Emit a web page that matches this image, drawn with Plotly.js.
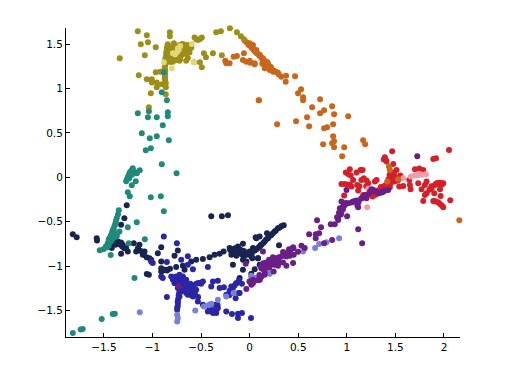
<!DOCTYPE html>
<html>
<head>
<meta charset="utf-8">
<script src="https://cdn.plot.ly/plotly-3.0.1.min.js"></script>
<style>
  html, body { margin: 0; padding: 0; background: #fff; }
  #chart { width: 507px; height: 379px; }
</style>
</head>
<body>
<div id="chart"></div>
<script>
const tickX = [-1.5, -1, -0.5, 0, 0.5, 1, 1.5, 2];
const tickY = [-1.5, -1, -0.5, 0, 0.5, 1, 1.5];

const navyX = [-1.265,-1.289,-1.323,-1.82,-1.78,-1.574,-1.571,-1.419,-1.409,-1.381,-1.357,-1.323,-1.306,-1.254,-1.323,-1.306,-1.271,-1.193,-1.134,-1.168,-1.082,-1.1,-1.031,-1.014,-.945,-.91,-.739,-.773,-1.058,-1.037,-.91,-.852,-.91,-.876,-.91,-.756,-.687,-.67,-.601,-.55,-.481,-.412,-.361,-.309,-.268,-.206,-.12,-.069,-.188,-.172,-.137,-.086,-.052,0,.034,.103,.069,-.395,-.286,-.223,-.103,-.069,.086,-.172,-.069,.017,.052,-.034,.351,.292,.258,.223,.189,.155,.12,.086,.052,.017,.179,.103,.062,.302,.027,.086,.052,.103,.017,
  .33,.31,.27,.24,.21,.17,.14,.11,.07,.035,0,-.03,-.06,-.09,-.11,-.15,-.17,-.2,-.12,-.14,-.08,-.05,-.02,.02,-1.39,-1.37,-1.35,-1.33,-1.31,-1.29,-1.15,-1.12,-1.09,-1.06,-.89,-.85,-.82];
const navyY = [-.315,-.461,-.536,-.641,-.675,-.686,-.713,-.798,-.742,-.761,-.724,-.736,-.761,-.837,-.863,-.78,-.798,-.742,-.761,-.837,-.837,-.874,-.911,-.93,-.855,-.787,-.826,-.885,-1.091,-1.099,-.949,-1.043,-1.062,-1.043,-1.024,-1.012,-.998,-1.043,-.949,-.93,-.922,-.9,-.874,-.863,-.837,-.798,-.78,-.75,-.874,-.837,-.885,-.837,-.874,-.837,-.798,-.78,-.686,-.438,-.438,-.427,-1.136,-1.043,-.911,-.986,-.93,-.893,-.818,-.949,-.54,-.573,-.612,-.649,-.686,-.724,-.761,-.798,-.826,-.848,-.63,-.668,-.675,-.765,-.911,-.911,-1.035,-.986,-1.088,
  -.55,-.565,-.6,-.63,-.66,-.7,-.74,-.77,-.81,-.83,-.85,-.85,-.83,-.82,-.81,-.8,-.81,-.82,-.86,-.84,-.87,-.88,-.87,-.87,-.73,-.74,-.75,-.76,-.78,-.8,-.8,-.83,-.87,-.9,-1.05,-1.05,-1.03];

const blueX = [-.883,-.749,-.636,-.704,-.852,-.997,-1.014,-.636,-.584,-.43,-.91,-.894,-.852,-.807,-.79,-.756,-.722,-.687,-.653,-.773,-.739,-.704,-.722,-.739,-.746,-.722,-.67,-.619,-.653,-.584,-.533,-.481,-.584,-.533,-.481,-.55,-.636,-.395,-.378,-.327,-.309,-.265,-.43,-.378,-.344,-.327,-.344,-.378,-.206,-.172,-.137,-.241,-.182,-.12,-.12,-.079,.014,-.103,-.079,-.412,-.172,-.24,-.189,-.137,-.113,-.144,-.206,
  -.72,-.725,-.73,-.735,-.74,-.74,-.745,-.79,-.77,-.75,-.73,-.71,-.69,-.67,-.65,-.63,-.6,-.58,-.56,-.53,-.61,-.58,-.55,-.52,-.5,-.6,-.62,-.65,-.68,-.7,-.41,-.39,-.36,-.33,-.34,-.19,-.155,-.21,-.11];
const blueY = [-.668,-.742,-.889,-.93,-.956,-.967,-.949,-.986,-1.035,-1.012,-1.118,-1.136,-1.35,-1.118,-1.155,-1.118,-1.099,-1.118,-1.155,-1.193,-1.249,-1.287,-1.344,-1.418,-1.493,-1.193,-1.212,-1.249,-1.305,-1.344,-1.4,-1.437,-1.231,-1.193,-1.175,-1.268,-1.324,-1.231,-1.175,-1.167,-1.249,-1.238,-1.512,-1.53,-1.53,-1.474,-1.437,-1.437,-1.305,-1.249,-1.193,-1.512,-1.542,-1.587,-1.539,-1.53,-1.587,-1.305,-1.2,-1.474,-1.305,-1.324,-1.231,-1.193,-1.305,-1.362,-1.279,
  -1.25,-1.3,-1.33,-1.37,-1.4,-1.45,-1.47,-1.13,-1.15,-1.17,-1.18,-1.14,-1.14,-1.17,-1.2,-1.22,-1.26,-1.29,-1.32,-1.35,-1.2,-1.22,-1.2,-1.19,-1.2,-1.33,-1.29,-1.26,-1.27,-1.2,-1.5,-1.5,-1.5,-1.44,-1.49,-1.27,-1.22,-1.33,-1.16];

const periX = [.921,.79,.715,.674,.55,.206,.052,.017,-1.131,-.746,-.739,-.746,-.56,-.471,-.395,-.327,-.241,-.165,.017,.069,-.42,-.4];
const periY = [-.686,-.731,-.753,-.798,-.837,-1.088,-1.136,-1.11,-1.52,-1.55,-1.587,-1.625,-1.501,-1.456,-1.426,-1.381,-1.344,-1.305,-1.118,-1.136,-1.44,-1.43];

const redX = [1.467,2.052,1.89,1.918,1.392,1.409,1.478,1.512,1.478,1.529,1.485,1.402,1.443,1.375,1.323,1.265,1.289,1.031,.99,1.014,1.1,1.141,1.162,1.175,1.22,1.203,1.289,1.306,1.065,.945,.979,1.048,1.107,1.117,1.168,.973,1.701,1.746,1.787,1.643,1.649,1.656,1.581,1.54,1.735,1.77,1.821,1.804,1.821,1.804,1.873,1.907,1.942,1.993,1.959,1.959,1.9,1.966,1.787,1.89,1.918,1.959,1.993,2.065,1.44,1.47,1.38,1.41,1.35,1.45,1.55,1.04,1.13,1.49,
  1.92,1.96,1.98,1.87,1.85,1.38,1.4,1.43,1.46,1.5,1.52,1.36,1.32,1.3,1.25,1.2,1.15,1,1.03,1.9,1.94,1.98];
const redY = [.294,.309,.207,.215,.226,.177,.151,.083,.053,-.029,-.048,-.086,-.112,-.161,-.179,-.217,-.198,.091,.053,.038,.053,.083,.083,-.011,-.067,-.037,-.048,-.029,-.029,-.074,-.074,-.104,-.086,-.15,-.198,-.206,.091,.098,.083,-.029,-.086,-.134,-.097,-.104,-.067,-.134,-.048,-.086,-.179,-.198,-.123,-.086,-.06,-.067,-.086,-.134,-.179,-.21,-.266,-.266,-.274,-.3,-.337,-.258,.03,-.01,-.1,-.14,-.11,-.07,.02,.02,-.1,.02,
  -.07,-.06,-.08,-.1,-.14,.2,.2,-.02,.05,0,-.04,-.13,-.15,-.19,-.14,-.1,-.03,-.08,-.08,-.27,-.28,-.32];

const pinkX = [1.581,1.66,1.701,1.735,1.77,1.814,1.21,1.22];
const pinkY = [-.011,.008,.019,.027,.031,.034,-.337,-.13];

const purpleX = [1.725,.997,.945,1.014,.979,.928,.945,.9,1.003,.911,.876,.835,.694,.735,.612,.715,.68,.68,1.117,1.158,.849,.766,1.065,1.1,1.117,1.151,1.186,1.203,1.254,1.289,1.34,1.375,1.426,1.23,1.048,1.107,.962,.447,.405,.533,.567,.498,.454,.412,.344,.378,.292,.309,.258,.223,.189,.155,.12,.155,.155,.103,.447,.378,.247,.206,.344,.258,.292,.137,.017,0,.034,-.732,-.041,0,.034,-.034,.103,
  .45,.42,.39,.36,.33,.3,.27,.24,.21,.18,.15,.13,.2,.24,.17,.14,.2,.25,.3,.12,.1,.12,.08,.94,.96,.97,.99,.91,.92,1.08,1.12,1.15,1.18,1.21,1.24,1.27,1.3,1.33,1.36,1.39];
const purpleY = [.237,-.142,-.274,-.293,-.311,-.348,-.386,-.449,-.438,-.48,-.528,-.528,-.483,-.562,-.641,-.63,-.641,-.686,-.585,-.742,-.708,-.742,-.274,-.262,-.337,-.235,-.198,-.235,-.134,-.161,-.172,-.161,-.142,-.179,-.285,-.311,-.33,-.787,-.81,-.772,-.798,-.84,-.874,-.885,-.843,-.893,-.911,-.961,-.911,-.949,-.967,-.986,-1.024,-1.062,-1.099,-1.155,-.967,-.998,-1.062,-1.006,-.961,-.986,-.998,-.837,-1.212,-1.175,-1.155,-1.231,-.975,-1.175,-1.193,-1.26,-1.155,
  -.8,-.82,-.85,-.87,-.89,-.9,-.92,-.95,-.97,-1,-1.01,-1.03,-.93,-.9,-.96,-.97,-1.02,-.98,-.94,-.99,-1.1,-1.12,-1.16,-.42,-.36,-.32,-.29,-.45,-.4,-.27,-.28,-.24,-.22,-.2,-.16,-.14,-.16,-.18,-.17,-.15];

const orangeX = [-.251,-.241,-.206,-.165,-.131,-.059,-.069,-.034,0,.052,.093,.034,.069,.103,0,.034,.069,.103,.137,.155,.189,.155,.206,.241,.292,.326,.371,.375,.467,.007,.052,.529,.498,.55,.55,.096,.725,.643,.849,.766,.725,.869,1.014,.591,.478,.282,.612,.859,.797,.766,.859,.869,.849,.756,.869,.973,1.168,1.189,.952,1.433,1.443,1.529,1.416,2.158,
  -.05,-.03,-.01,.01,.02,.04,.05,.07,.085,.1,.12,.13,.14,.16,.17,.19,.21,.22,.25,.27,.3,.15,.18,.13];
const orangeY = [1.315,1.285,1.285,1.359,1.367,1.397,1.322,1.303,1.315,1.285,.868,1.491,1.435,1.378,1.51,1.453,1.415,1.378,1.341,1.303,1.285,1.228,1.21,1.19,1.179,1.134,1.078,1.145,1.138,1.292,1.274,.992,.947,.902,.868,.868,.879,.789,.801,.756,.722,.71,.688,.676,.631,.597,.575,.597,.564,.552,.462,.406,.384,.372,.339,.339,.417,.372,.237,.121,.083,-.022,-.048,-.483,
  1.54,1.52,1.49,1.48,1.46,1.44,1.42,1.4,1.39,1.37,1.35,1.33,1.32,1.31,1.29,1.27,1.25,1.24,1.2,1.19,1.16,1.29,1.3,1.28];

const oliveX = [-1.337,-1.151,-1.058,-1.12,-1.047,-.966,-1.079,-.821,-.821,-.78,-1.141,-1.058,-1.007,-1.007,-.956,-.956,-1.017,-.904,-.863,-.863,-.863,-.966,-.918,-1.037,-.873,-.873,-.873,-.873,-.866,-.859,-.852,-.842,-.852,-.838,-.873,-.87,-.868,-.825,-.807,-.79,-.756,-.722,-.739,-.704,-.67,-.687,-.722,-.636,-.619,-.636,-.653,-.715,-.82,-.8,-.78,-.76,-.7,-.75,-.655,-.6,-.62,-.567,-.55,-.533,-.492,-.51,-.471,-.45,-.512,-.492,-.574,-.378,-.286,-.344,-.296,-.203,-.131,-.09,-.059,
  -.87,-.87,-.87,-.87,-.86,-.855,-.85,-.84,-.835,-.83,-.82,-.845,-.8,-.77,-.74,-.72,-.7,-.68,-.66,-.64,-.62,-.65,-.67,-.7,-.73,-.78,-.8,-.76,-.72,-.69,-.65,-.63];
const oliveY = [1.341,1.645,1.6,1.499,1.521,1.465,1.375,1.634,1.589,1.51,1.149,1.104,1.104,1.07,1.07,1.014,.947,1.048,1.059,1.014,.935,1.183,1.19,.789,1.116,1.172,1.228,1.285,1.341,1.397,1.453,1.499,1.375,1.42,1.06,1.14,1.2,1.341,1.397,1.303,1.322,1.315,1.378,1.415,1.453,1.502,1.491,1.491,1.408,1.341,1.315,1.33,1.46,1.45,1.36,1.42,1.47,1.47,1.39,1.46,1.47,1.577,1.555,1.547,1.577,1.56,1.397,1.352,1.296,1.24,1.296,1.397,1.375,1.634,1.645,1.679,1.634,1.589,1.555,
  1.09,1.15,1.26,1.31,1.36,1.42,1.47,1.44,1.39,1.36,1.3,1.34,1.33,1.34,1.34,1.36,1.38,1.4,1.42,1.44,1.46,1.48,1.49,1.5,1.47,1.4,1.38,1.38,1.42,1.43,1.44,1.41];

const paleX = [-.883,-.801,-.595,-.574,-.79,-.766,-.746,-.729,-.715,-.739];
const paleY = [1.296,1.228,1.502,1.296,1.397,1.386,1.415,1.442,1.48,1.453];

const tealX = [-.883,-.904,-.852,-1.037,-.842,-.842,-1.151,-1.047,-.956,-.894,-1.11,-1.028,-.956,-.832,-1.069,-1.017,-.904,-.752,-1.213,-1.172,-1.131,-1.271,-1.254,-1.237,-1.203,-1.22,-1.162,-1.186,-1.254,-1.234,-1.017,-.914,-.883,-1.162,-1.254,-1.079,-1.244,-1.347,-1.368,-1.381,-1.399,-1.419,-1.443,-1.46,-1.505,-1.543,-1.43,-1.392,-1.34,-1.368,-1.43,-1.45,-1.47,-1.185,-1.388,-1.409,-1.523,-1.718,-1.739,-1.82,
  -1.355,-1.375,-1.39,-1.41,-1.43,-1.44,-1.42,-1.4,-1.38,-1.41,-1.36,-1.45,-1.46,-1.48,-1.26,-1.245,-1.23,-1.215,-1.21,-1.24,-1.2];
const tealY = [1.183,.958,.868,.744,.733,.688,.722,.676,.676,.586,.496,.44,.462,.417,.305,.327,.147,.046,-.089,-.044,.08,-.044,.001,.046,.102,.035,.046,.064,-.169,-.213,-.225,-.213,-.382,-.506,-.562,-.697,-.742,-.371,-.461,-.517,-.573,-.63,-.686,-.742,-.81,-.821,-.877,-.648,-.612,-.668,-.724,-.77,-.79,-1.136,-1.539,-1.542,-1.598,-1.711,-1.715,-1.756,
  -.42,-.49,-.545,-.6,-.66,-.72,-.71,-.68,-.66,-.65,-.63,-.7,-.76,-.78,-.02,.02,.06,.08,.03,-.01,.07];

function dots(x, y, color) {
  return { x, y, type: 'scatter', mode: 'markers', cliponaxis: false, hoverinfo: 'none', marker: { color, size: 6, line: { width: 0 } } };
}

const traces = [
  dots(navyX, navyY, '#1a2450'),
  dots(blueX, blueY, '#2a26a6'),
  dots(periX, periY, '#7a80d6'),
  dots(redX, redY, '#d3202a'),
  dots(pinkX, pinkY, '#f79aaa'),
  dots(purpleX, purpleY, '#6a1f86'),
  dots(orangeX, orangeY, '#c8661c'),
  dots(oliveX, oliveY, '#9c8e18'),
  dots(paleX, paleY, '#e0d878'),
  dots(tealX, tealY, '#1f8a7c')
];

const axisStyle = {
  showgrid: false,
  zeroline: false,
  showline: true,
  linecolor: '#000',
  linewidth: 1,
  ticks: 'inside',
  ticklen: 4,
  tickwidth: 1,
  tickcolor: '#000',
  tickfont: { family: 'DejaVu Sans', size: 10.5, color: '#000' }
};

const layout = {
  width: 507,
  height: 379,
  margin: { l: 66, r: 47, t: 28, b: 42 },
  paper_bgcolor: '#fff',
  plot_bgcolor: '#fff',
  showlegend: false,
  xaxis: { ...axisStyle, range: [-1.89, 2.165], tickmode: 'array', tickvals: tickX },
  yaxis: { ...axisStyle, range: [-1.8, 1.683], tickmode: 'array', tickvals: tickY }
};

Plotly.newPlot('chart', traces, layout, { displayModeBar: false, staticPlot: true });
</script>
</body>
</html>
